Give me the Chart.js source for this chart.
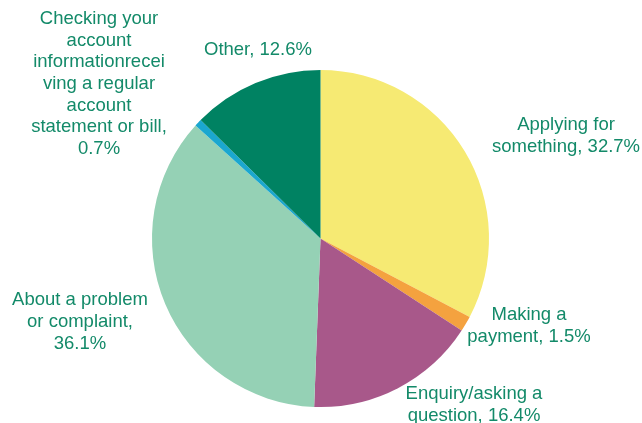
<!DOCTYPE html>
<html>
<head>
<meta charset="utf-8">
<script src="https://cdn.jsdelivr.net/npm/chart.js@4/dist/chart.umd.min.js"></script>
<style>
  html, body { margin: 0; padding: 0; background: #fff; }
  canvas { display: block; }
</style>
</head>
<body>
<canvas id="myChart" width="642" height="423"></canvas>
<script>
const categories = [
  "Applying for something",
  "Making a payment",
  "Enquiry/asking a question",
  "About a problem or complaint",
  "Checking your account informationreceiving a regular account statement or bill",
  "Other",
];
const shares = [32.7, 1.5, 16.4, 36.1, 0.7, 12.6];
const sliceColors = ["#f6ea73", "#f4a23f", "#a8588a", "#95d1b5", "#1ba7cf", "#008262"];

// where each label block sits (centre x, centre y) and how wide it may wrap
const labelBoxes = [
  { x: 566, y: 136, width: 165 },
  { x: 529, y: 326, width: 135 },
  { x: 474, y: 405, width: 155 },
  { x: 80, y: 322, width: 145 },
  { x: 99, y: 84, width: 137 },
  { x: 258, y: 50, width: 200 },
];

const LABEL_FONT = '18.5px "Liberation Sans", Arial, sans-serif';
const LABEL_COLOR = "#138a69";
const LINE_HEIGHT = 21.6;

// word wrap, breaking a word by characters only when it can't fit a line alone
function wrap(ctx, text, maxWidth) {
  const lines = [];
  let line = "";
  for (let word of text.split(" ")) {
    let candidate = line ? line + " " + word : word;
    if (ctx.measureText(candidate).width <= maxWidth) {
      line = candidate;
      continue;
    }
    if (line) lines.push(line);
    line = "";
    while (ctx.measureText(word).width > maxWidth) {
      let i = 1;
      while (ctx.measureText(word.slice(0, i + 1)).width <= maxWidth) i++;
      lines.push(word.slice(0, i));
      word = word.slice(i);
    }
    line = word;
  }
  if (line) lines.push(line);
  return lines;
}

const sliceLabels = {
  id: "sliceLabels",
  afterDraw(chart) {
    const ctx = chart.ctx;
    const values = chart.data.datasets[0].data;
    ctx.save();
    ctx.font = LABEL_FONT;
    ctx.fillStyle = LABEL_COLOR;
    ctx.textAlign = "center";
    ctx.textBaseline = "middle";
    chart.data.labels.forEach((name, i) => {
      const box = labelBoxes[i];
      const lines = wrap(ctx, `${name}, ${values[i].toFixed(1)}%`, box.width);
      const top = box.y - ((lines.length - 1) * LINE_HEIGHT) / 2;
      lines.forEach((line, k) => ctx.fillText(line, box.x, top + k * LINE_HEIGHT));
    });
    ctx.restore();
  },
};

new Chart(document.getElementById("myChart"), {
  type: "pie",
  data: {
    labels: categories,
    datasets: [
      {
        data: shares,
        backgroundColor: sliceColors,
        borderWidth: 0,
      },
    ],
  },
  options: {
    responsive: false,
    animation: false,
    rotation: 0,
    layout: { padding: { top: 70, bottom: 16, left: 0, right: 1 } },
    plugins: {
      legend: { display: false },
      tooltip: { enabled: false },
    },
  },
  plugins: [sliceLabels],
});
</script>
</body>
</html>
